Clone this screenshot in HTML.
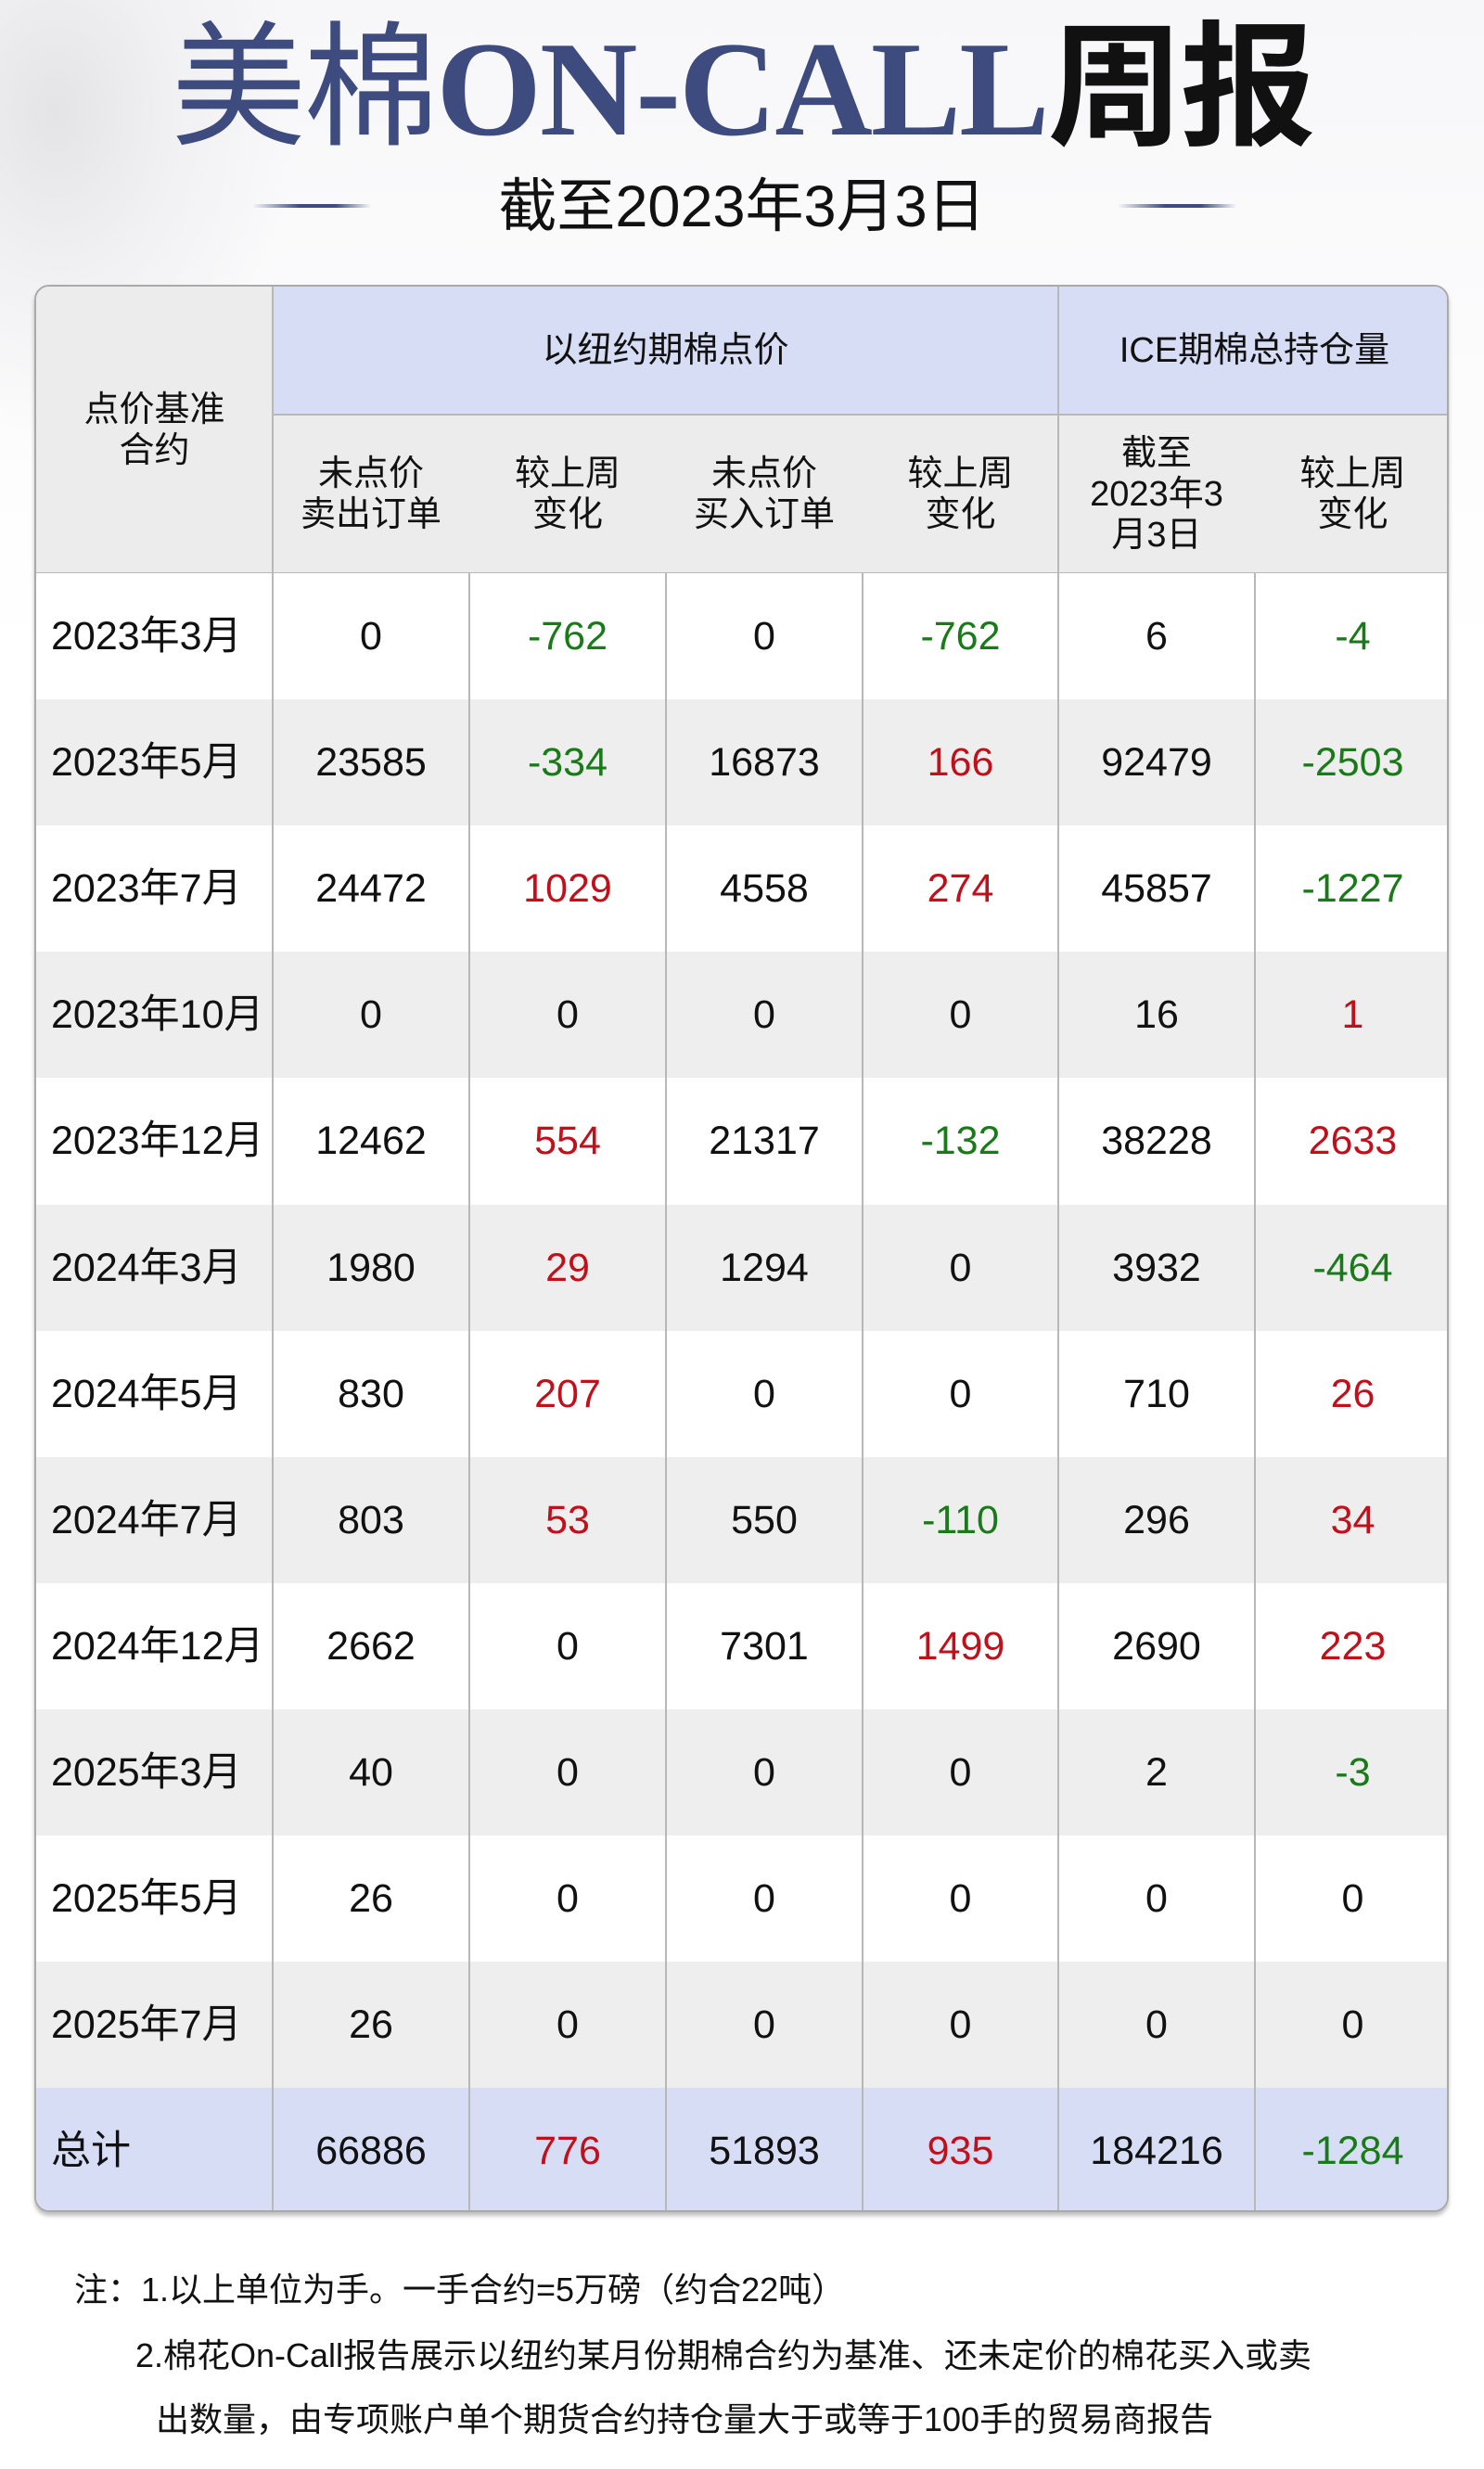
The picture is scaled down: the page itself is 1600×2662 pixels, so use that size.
<!DOCTYPE html>
<html><head><meta charset="utf-8"><style>
*{margin:0;padding:0;box-sizing:border-box}
body{width:1600px;height:2662px;position:relative;background:#fff;font-family:"Liberation Sans","Noto Sans CJK SC",sans-serif;overflow:hidden}
.bg{position:absolute;left:0;top:0;width:1600px;height:700px;background:radial-gradient(ellipse 260px 360px at 60px 120px,#e4e4e6 0%,#f1f1f3 50%,rgba(255,255,255,0) 100%),linear-gradient(#f7f7f9,#fff)}
.title{position:absolute;left:0;width:1600px;top:10px;text-align:center;font-size:146px;line-height:170px;color:#3d4b7e;white-space:nowrap;letter-spacing:-3px}
.title .s{font-family:"Liberation Serif",serif;font-weight:bold;letter-spacing:-2px}
.title .k{color:#111;font-weight:bold}
.sub{position:absolute;left:0;width:1600px;top:184px;text-align:center;font-size:63px;line-height:78px;color:#111}
.ln{position:absolute;top:220px;height:4px;width:128px;background:linear-gradient(90deg,rgba(60,75,125,0),#3d4b7e 40%,#3d4b7e 70%,rgba(60,75,125,0))}
.tbl{position:absolute;left:37px;top:307px;width:1525px;height:2078px;border:2px solid #aaa;border-radius:16px;overflow:hidden;box-shadow:0 4px 4px rgba(0,0,0,.25);background:#fff}
.c{position:absolute;display:flex;align-items:center;justify-content:center;text-align:center;font-size:43px;color:#111;line-height:44px}
.v{position:absolute;top:0;width:1.5px;background:#b8b8b8}
.r{color:#c0101c}.g{color:#1a7a1a}
.note{position:absolute;font-size:36px;color:#111;white-space:nowrap}
</style></head><body>
<div class="bg"></div>
<div class="title">美棉<span class="s">ON-CALL</span><span class="k">周报</span></div>
<div class="sub">截至2023年3月3日</div>
<div class="ln" style="left:272px"></div>
<div class="ln" style="left:1205px"></div>
<div class="tbl">
<div style="position:absolute;left:0;top:0;width:1525px;height:309px;background:#ececec"></div>
<div style="position:absolute;left:255px;top:0;width:1270px;height:138px;background:#d6ddf5"></div>
<div style="position:absolute;left:255px;top:137px;width:1270px;height:2px;background:#b8b8b8"></div>
<div style="position:absolute;left:0;top:308px;width:1525px;height:2px;background:#b8b8b8"></div>
<div id="rows"></div>
<div class="c" style="left:0;top:0;width:255px;height:309px;font-size:38px;line-height:44px">点价基准<br>合约</div>
<div class="c" style="left:255px;top:0;width:847px;height:138px;font-size:38px">以纽约期棉点价</div>
<div class="c" style="left:1102px;top:0;width:423px;height:138px;font-size:38px">ICE期棉总持仓量</div>
<div class="c" style="left:255px;top:138px;width:212px;height:171px;font-size:38px">未点价<br>卖出订单</div>
<div class="c" style="left:467px;top:138px;width:212px;height:171px;font-size:38px">较上周<br>变化</div>
<div class="c" style="left:679px;top:138px;width:212px;height:171px;font-size:38px">未点价<br>买入订单</div>
<div class="c" style="left:891px;top:138px;width:211px;height:171px;font-size:38px">较上周<br>变化</div>
<div class="c" style="left:1102px;top:138px;width:212px;height:171px;font-size:38px">截至<br>2023年3<br>月3日</div>
<div class="c" style="left:1314px;top:138px;width:211px;height:171px;font-size:38px">较上周<br>变化</div>
<div class="v" style="left:254px;height:2078px"></div>
<div class="v" style="left:1101px;height:2078px"></div>
<div class="v" style="left:466px;top:309px;height:1769px"></div>
<div class="v" style="left:678px;top:309px;height:1769px"></div>
<div class="v" style="left:890px;top:309px;height:1769px"></div>
<div class="v" style="left:1313px;top:309px;height:1769px"></div>
</div>
<div class="note" style="left:80px;top:2440px">注：1.以上单位为手。一手合约=5万磅（约合22吨）</div>
<div class="note" style="left:146px;top:2511px">2.棉花On-Call报告展示以纽约某月份期棉合约为基准、还未定价的棉花买入或卖</div>
<div class="note" style="left:168px;top:2580px">出数量，由专项账户单个期货合约持仓量大于或等于100手的贸易商报告</div>
<script>
var d=[["2023年3月","0","-762","0","-762","6","-4"],["2023年5月","23585","-334","16873","166","92479","-2503"],["2023年7月","24472","1029","4558","274","45857","-1227"],["2023年10月","0","0","0","0","16","1"],["2023年12月","12462","554","21317","-132","38228","2633"],["2024年3月","1980","29","1294","0","3932","-464"],["2024年5月","830","207","0","0","710","26"],["2024年7月","803","53","550","-110","296","34"],["2024年12月","2662","0","7301","1499","2690","223"],["2025年3月","40","0","0","0","2","-3"],["2025年5月","26","0","0","0","0","0"],["2025年7月","26","0","0","0","0","0"],["总计","66886","776","51893","935","184216","-1284"]];
var xs=[0,255,467,679,891,1102,1314,1525],h="";
d.forEach(function(r,i){var t=309+i*136.1;var bg=i==12?"#d6ddf5":(i%2?"#eeeeee":"#fff");
h+='<div style="position:absolute;left:0;top:'+t+'px;width:1525px;height:137px;background:'+bg+'"></div>';
r.forEach(function(v,j){var cl="";if(j==2||j==4||j==6){var n=+v;cl=n>0?"r":(n<0?"g":"");}
if(j==0)h+='<div class="c" style="left:16px;top:'+t+'px;width:239px;height:136px;justify-content:flex-start">'+v+'</div>';
else h+='<div class="c '+cl+'" style="left:'+xs[j]+'px;top:'+t+'px;width:'+(xs[j+1]-xs[j])+'px;height:136px">'+v+'</div>';});});
document.getElementById("rows").innerHTML=h;
</script>
</body></html>
